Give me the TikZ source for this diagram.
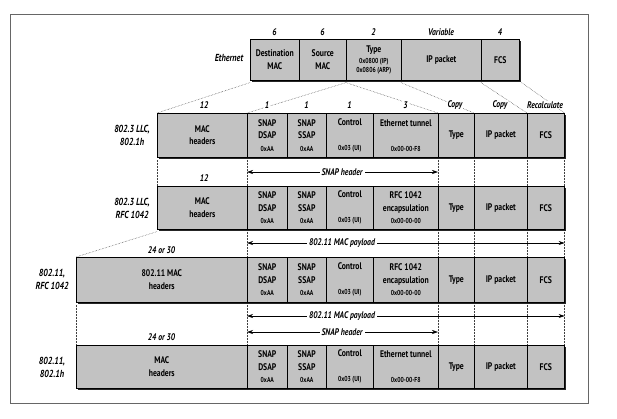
\documentclass[tikz,border=0pt]{standalone}
\usepackage{fontspec}
\setmainfont{PT Sans}[FakeStretch=0.8]
\usetikzlibrary{arrows.meta}
\newcommand\smalltxt[1]{{\fontsize{7.2}{12.5}\selectfont #1}}
\begin{document}
\begin{tikzpicture}[x=1pt,y=-1pt,
  cell/.style={draw=black, line width=0.6pt, fill=black!24, inner sep=0pt, anchor=north west,
    align=center, font=\fontsize{9.6}{12.5}\selectfont\bfseries},
  hdr/.style={font=\fontsize{9.6}{10}\selectfont\bfseries\itshape, fill=white, inner sep=1pt},
  rowlab/.style={font=\fontsize{10.2}{13}\selectfont\bfseries\itshape, align=center},
  guide/.style={densely dotted, line width=0.5pt, black!75},
  span/.style={{Stealth[length=6pt,width=4pt]}-{Stealth[length=6pt,width=4pt]}, line width=0.6pt},
  spanlab/.style={font=\fontsize{9.6}{10}\selectfont\bfseries\itshape, fill=white, inner sep=2pt},
  shade/.style={fill=black!85}]
\useasboundingbox (0,0) rectangle (617,418);
\draw[black!60, line width=0.8pt] (10,14) rectangle (588,403);

% shadows
\fill[shade] (252,41) rectangle (521,82);
\fill[shade] (159,115) rectangle (566,159);
\fill[shade] (159,188) rectangle (566,231);
\fill[shade] (78,259) rectangle (566,304);
\fill[shade] (78,347) rectangle (566,390);

% Ethernet row
\node[cell, minimum width=49pt, minimum height=41pt] (e1) at (250,39) {Destination\\MAC};
\node[cell, minimum width=47pt, minimum height=41pt] (e2) at (299,39) {Source\\MAC};
\node[cell, minimum width=55pt, minimum height=41pt, font=\fontsize{9.6}{11}\selectfont\bfseries] (e3) at (346,39) {Type\\\smalltxt{0x0800 (IP)}\\[-1.5pt]\smalltxt{0x0806 (ARP)}};
\node[cell, minimum width=80pt, minimum height=41pt] (e4) at (401,39) {IP packet};
\node[cell, minimum width=38pt, minimum height=41pt] (e5) at (481,39) {FCS};

% row 2
\node[cell, minimum width=90pt, minimum height=44pt] (a1) at (157,113) {MAC\\headers};
\node[cell, minimum width=40pt, minimum height=44pt] (a2) at (247,113) {SNAP\\DSAP\\\smalltxt{0xAA}};
\node[cell, minimum width=39pt, minimum height=44pt] (a3) at (287,113) {SNAP\\SSAP\\\smalltxt{0xAA}};
\node[cell, minimum width=47pt, minimum height=44pt] (a4) at (326,113) {Control\\~\\\smalltxt{0x03 (UI)}};
\node[cell, minimum width=65pt, minimum height=44pt] (a5) at (373,113) {Ethernet tunnel\\~\\\smalltxt{0x00-00-F8}};
\node[cell, minimum width=36pt, minimum height=44pt] (a6) at (438,113) {Type};
\node[cell, minimum width=53pt, minimum height=44pt] (a7) at (474,113) {IP packet};
\node[cell, minimum width=37pt, minimum height=44pt] (a8) at (527,113) {FCS};

% row 3
\node[cell, minimum width=90pt, minimum height=43pt] (b1) at (157,186) {MAC\\headers};
\node[cell, minimum width=40pt, minimum height=43pt] (b2) at (247,186) {SNAP\\DSAP\\\smalltxt{0xAA}};
\node[cell, minimum width=39pt, minimum height=43pt] (b3) at (287,186) {SNAP\\SSAP\\\smalltxt{0xAA}};
\node[cell, minimum width=47pt, minimum height=43pt] (b4) at (326,186) {Control\\~\\\smalltxt{0x03 (UI)}};
\node[cell, minimum width=65pt, minimum height=43pt] (b5) at (373,186) {RFC 1042\\encapsulation\\\smalltxt{0x00-00-00}};
\node[cell, minimum width=36pt, minimum height=43pt] (b6) at (438,186) {Type};
\node[cell, minimum width=53pt, minimum height=43pt] (b7) at (474,186) {IP packet};
\node[cell, minimum width=37pt, minimum height=43pt] (b8) at (527,186) {FCS};

% row 4
\node[cell, minimum width=171pt, minimum height=45pt] (c1) at (76,257) {802.11 MAC\\headers};
\node[cell, minimum width=40pt, minimum height=45pt] (c2) at (247,257) {SNAP\\DSAP\\\smalltxt{0xAA}};
\node[cell, minimum width=39pt, minimum height=45pt] (c3) at (287,257) {SNAP\\SSAP\\\smalltxt{0xAA}};
\node[cell, minimum width=47pt, minimum height=45pt] (c4) at (326,257) {Control\\~\\\smalltxt{0x03 (UI)}};
\node[cell, minimum width=65pt, minimum height=45pt] (c5) at (373,257) {RFC 1042\\encapsulation\\\smalltxt{0x00-00-00}};
\node[cell, minimum width=36pt, minimum height=45pt] (c6) at (438,257) {Type};
\node[cell, minimum width=53pt, minimum height=45pt] (c7) at (474,257) {IP packet};
\node[cell, minimum width=37pt, minimum height=45pt] (c8) at (527,257) {FCS};

% row 5
\node[cell, minimum width=171pt, minimum height=43pt] (d1) at (76,345) {MAC\\headers};
\node[cell, minimum width=40pt, minimum height=43pt] (d2) at (247,345) {SNAP\\DSAP\\\smalltxt{0xAA}};
\node[cell, minimum width=39pt, minimum height=43pt] (d3) at (287,345) {SNAP\\SSAP\\\smalltxt{0xAA}};
\node[cell, minimum width=47pt, minimum height=43pt] (d4) at (326,345) {Control\\~\\\smalltxt{0x03 (UI)}};
\node[cell, minimum width=65pt, minimum height=43pt] (d5) at (373,345) {Ethernet tunnel\\~\\\smalltxt{0x00-00-F8}};
\node[cell, minimum width=36pt, minimum height=43pt] (d6) at (438,345) {Type};
\node[cell, minimum width=53pt, minimum height=43pt] (d7) at (474,345) {IP packet};
\node[cell, minimum width=37pt, minimum height=43pt] (d8) at (527,345) {FCS};

% guides Ethernet -> row 2
\draw[guide] ([yshift=-2pt]e1.south west) -- (a1.north west);
\draw[guide] ([yshift=-2pt]e3.south west) -- (a2.north west);
\draw[guide] ([yshift=-2pt]e3.south west) -- (a6.north west);
\draw[guide] ([yshift=-2pt]e4.south west) -- (a7.north west);
\draw[guide] ([yshift=-2pt]e5.south west) -- (a8.north west);
\draw[guide] ([yshift=-2pt,xshift=2pt]e5.south east) -- (a8.north east);

% guides row 2 -> row 3
\foreach \u/\v in {a1/b1,a2/b2,a6/b6,a7/b7,a8/b8}
  \draw[guide] ([yshift=-2pt]\u.south west) -- (\v.north west);
\draw[guide] ([yshift=-2pt]a8.south east) -- (b8.north east);

% guides row 3 -> row 4
\foreach \u/\v in {b1/c1,b2/c2,b6/c6,b7/c7,b8/c8}
  \draw[guide] ([yshift=-2pt]\u.south west) -- (\v.north west);
\draw[guide] ([yshift=-2pt]b8.south east) -- (c8.north east);

% guides row 4 -> row 5
\foreach \u/\v in {c1/d1,c2/d2,c6/d6,c7/d7,c8/d8}
  \draw[guide] ([yshift=-2pt]\u.south west) -- (\v.north west);
\draw[guide] ([yshift=-2pt]c8.south east) -- (d8.north east);

% size labels
\node[hdr] (n1) at (274.5,32) {6};
\node[hdr] (n2) at (322.5,32) {6};
\node[hdr] (n3) at (373.5,32) {2};
\node[hdr] (n4) at (441,32) {Variable};
\node[hdr] (n5) at (500,32) {4};

\node[hdr] (m1) at (204,105) {12};
\node[hdr] (m2) at (267,105) {1};
\node[hdr] (m3) at (306.5,105) {1};
\node[hdr] (m4) at (349.5,105) {1};
\node[hdr] (m5) at (405.5,105) {3};
\node[hdr] (m6) at (455,105) {Copy};
\node[hdr] (m7) at (500,105) {Copy};
\node[hdr] (m8) at (545,105) {Recalculate};

\node[hdr] (k1) at (204,178) {12};
\node[hdr] (k2) at (161.5,250) {24 or 30};
\node[hdr] (k3) at (161.5,337) {24 or 30};

% row labels
\node[rowlab] (l0) at (229,58) {Ethernet};
\node[rowlab] (l1) at (132,135) {802.3 LLC,\\802.1h};
\node[rowlab] (l2) at (132,208) {802.3 LLC,\\RFC 1042};
\node[rowlab] (l3) at (52,279) {802.11,\\RFC 1042};
\node[rowlab] (l4) at (52,367) {802.11,\\802.1h};

% span arrows
\coordinate (s1a) at (a2.south west |- 0,172);
\coordinate (s1b) at (a6.south west |- 0,172);
\draw[span] (s1a) -- (s1b);
\node[spanlab] at (342,172) {SNAP header};

\coordinate (s2a) at (b2.south west |- 0,243);
\coordinate (s2b) at (b8.south east |- 0,243);
\draw[span] (s2a) -- (s2b);
\node[spanlab] at (342,243) {802.11 MAC payload};

\coordinate (s3a) at (c2.south west |- 0,316);
\coordinate (s3b) at (c8.south east |- 0,316);
\draw[span] (s3a) -- (s3b);
\node[spanlab] at (342,316) {802.11 MAC payload};

\coordinate (s4a) at (c2.south west |- 0,332);
\coordinate (s4b) at (c6.south west |- 0,332);
\draw[span] (s4a) -- (s4b);
\node[spanlab] at (342,332) {SNAP header};
\end{tikzpicture}
\end{document}
